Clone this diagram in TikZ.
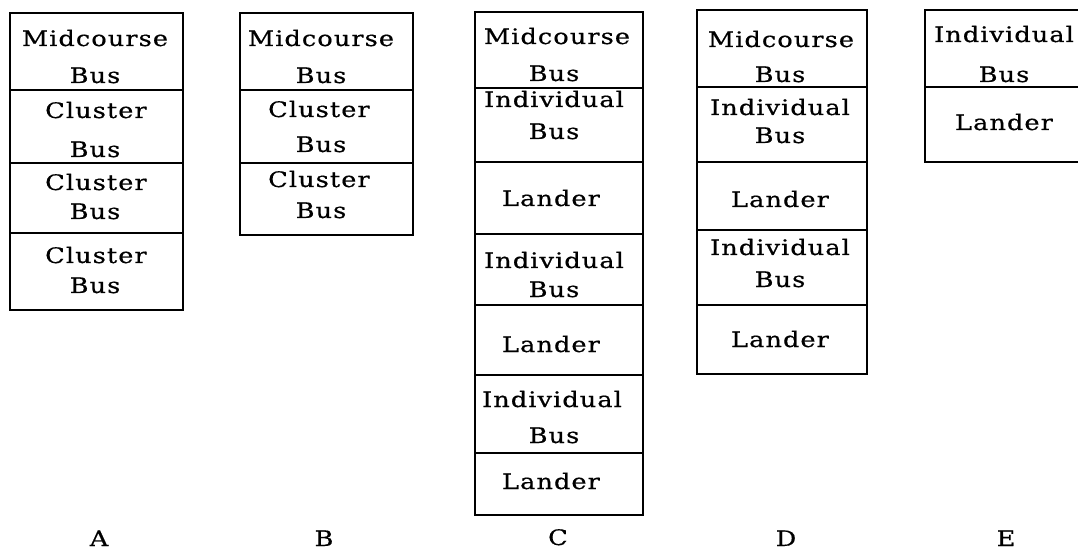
\documentclass[tikz,border=0pt]{standalone}
\usepackage{fontspec}
\setmainfont{DejaVu Serif}[LetterSpace=5,FakeStretch=1.2,FakeBold=0.6]
\begin{document}
\begin{tikzpicture}[x=0.75pt,y=-0.75pt,
  frame/.style={line width=1.5pt, line join=miter},
  lbl/.style={anchor=base, inner sep=0pt, font=\fontsize{16}{19}\selectfont},
]
\useasboundingbox (0,0) rectangle (1078,552);

% ---- stack A ----
\draw[frame] (10,13) rectangle (183,310);
\foreach \y in {90,163,233} \draw[frame] (10,\y) -- (183,\y);
\node[lbl] (a1t) at (95,46)  {Midcourse};
\node[lbl] (a1b) at (95,83)  {Bus};
\node[lbl] (a2t) at (96,118) {Cluster};
\node[lbl] (a2b) at (95,157) {Bus};
\node[lbl] (a3t) at (96,190) {Cluster};
\node[lbl] (a3b) at (95,219) {Bus};
\node[lbl] (a4t) at (96,263) {Cluster};
\node[lbl] (a4b) at (95,293) {Bus};

% ---- stack B ----
\draw[frame] (240,13) rectangle (413,235);
\foreach \y in {90,163} \draw[frame] (240,\y) -- (413,\y);
\node[lbl] (b1t) at (321,46)  {Midcourse};
\node[lbl] (b1b) at (321,83)  {Bus};
\node[lbl] (b2t) at (319,117) {Cluster};
\node[lbl] (b2b) at (321,152) {Bus};
\node[lbl] (b3t) at (319,187) {Cluster};
\node[lbl] (b3b) at (321,218) {Bus};

% ---- stack C ----
\draw[frame] (475,12) rectangle (643,515);
\foreach \y in {88,162,234,305,375,453} \draw[frame] (475,\y) -- (643,\y);
\node[lbl] (c1t) at (557,44)  {Midcourse};
\node[lbl] (c1b) at (554,81)  {Bus};
\node[lbl] (c2t) at (554,107) {Individual};
\node[lbl] (c2b) at (554,139) {Bus};
\node[lbl] (c3)  at (551,206) {Lander};
\node[lbl] (c4t) at (554,268) {Individual};
\node[lbl] (c4b) at (554,297) {Bus};
\node[lbl] (c5)  at (551,352) {Lander};
\node[lbl] (c6t) at (552,407) {Individual};
\node[lbl] (c6b) at (554,443) {Bus};
\node[lbl] (c7)  at (551,489) {Lander};

% ---- stack D ----
\draw[frame] (697,10) rectangle (867,374);
\foreach \y in {87,162,230,305} \draw[frame] (697,\y) -- (867,\y);
\node[lbl] (d1t) at (781,47)  {Midcourse};
\node[lbl] (d1b) at (780,82)  {Bus};
\node[lbl] (d2t) at (780,115) {Individual};
\node[lbl] (d2b) at (780,143) {Bus};
\node[lbl] (d3)  at (780,207) {Lander};
\node[lbl] (d4t) at (780,255) {Individual};
\node[lbl] (d4b) at (780,287) {Bus};
\node[lbl] (d5)  at (780,347) {Lander};

% ---- stack E (runs off the right edge) ----
\draw[frame] (1078,10) -- (925,10) -- (925,162) -- (1078,162);
\draw[frame] (925,87) -- (1078,87);
\node[lbl] (e1t) at (1004,42)  {Individual};
\node[lbl] (e1b) at (1004,82)  {Bus};
\node[lbl] (e2)  at (1004,130) {Lander};

% ---- stack captions ----
\node[lbl] (capA) at (99,546)  {A};
\node[lbl] (capB) at (324,546) {B};
\node[lbl] (capC) at (558,545) {C};
\node[lbl] (capD) at (786,546) {D};
\node[lbl] (capE) at (1006,546) {E};
\end{tikzpicture}
\end{document}
